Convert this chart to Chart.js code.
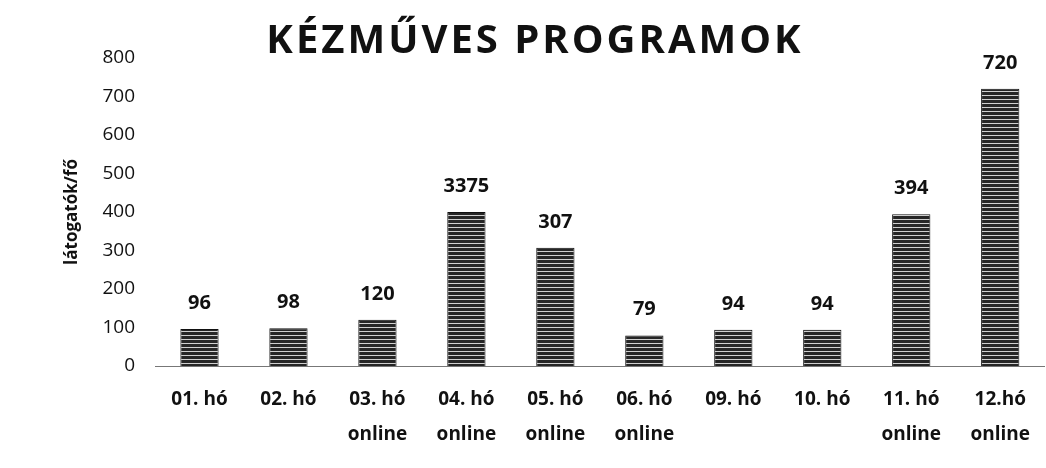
<!DOCTYPE html>
<html>
<head>
<meta charset="utf-8">
<script src="https://cdn.jsdelivr.net/npm/chart.js@4/dist/chart.umd.min.js"></script>
<style>
  html, body { margin: 0; padding: 0; background: #fff; }
  #wrap { width: 1046px; height: 468px; }
</style>
</head>
<body>
<div id="wrap"><canvas id="chart"></canvas></div>
<script>
const months = [
    ['01. hó'], ['02. hó'], ['03. hó', 'online'], ['04. hó', 'online'], ['05. hó', 'online'],
    ['06. hó', 'online'], ['09. hó'], ['10. hó'], ['11. hó', 'online'], ['12.hó', 'online']
];
// bar heights as drawn (the 04 bar is capped at the axis scale)
const visitors = [96, 98, 120, 400, 307, 79, 94, 94, 394, 720];
// numbers printed above the bars
const valueLabels = ['96', '98', '120', '3375', '307', '79', '94', '94', '394', '720'];
const yTicks = [0, 100, 200, 300, 400, 500, 600, 700, 800];

const FONT = '"Open Sans", "Noto Sans", sans-serif';
const TITLE = 'KÉZMŰVES PROGRAMOK';

// scanned look: dark bars with thin light horizontal lines
function stripePattern() {
    const c = document.createElement('canvas');
    c.width = 4;
    c.height = 4;
    const g = c.getContext('2d');
    g.fillStyle = '#262626';
    g.fillRect(0, 0, 4, 4);
    g.fillStyle = '#d0d0d0';
    g.fillRect(0, 3, 4, 1);
    return g.createPattern(c, 'repeat');
}

// values above bars + spaced-out title
const barLabels = {
    id: 'barLabels',
    afterDatasetsDraw(chart) {
        const ctx = chart.ctx;
        const meta = chart.getDatasetMeta(0);
        ctx.save();
        ctx.font = 'bold 20px ' + FONT;
        ctx.fillStyle = '#111';
        ctx.textAlign = 'center';
        ctx.textBaseline = 'bottom';
        meta.data.forEach((bar, i) => {
            ctx.fillText(valueLabels[i], bar.x, bar.y - 16);
        });

        // title (Chart.js title has no letter spacing)
        ctx.font = 'bold 40px ' + FONT;
        ctx.letterSpacing = '3px';
        ctx.textBaseline = 'alphabetic';
        ctx.fillText(TITLE, 535, 53);
        ctx.restore();
    }
};

function initChart() {
    const ctx = document.getElementById('chart').getContext('2d');

    new Chart(ctx, {
        type: 'bar',
        data: {
            labels: months,
            datasets: [{
                data: visitors,
                backgroundColor: stripePattern(),
                borderColor: '#111',
                borderWidth: 1,
                barPercentage: 0.43,
                categoryPercentage: 1
            }]
        },
        options: {
            responsive: true,
            maintainAspectRatio: false,
            animation: false,
            layout: { padding: { top: 58, right: 0, bottom: 0, left: 0 } },
            plugins: {
                legend: { display: false },
                tooltip: { enabled: false },
                title: { display: false }
            },
            scales: {
                x: {
                    afterFit(axis) { axis.height = 102; },
                    grid: { display: false, drawTicks: false },
                    border: { color: '#777', width: 1 },
                    ticks: {
                        color: '#111',
                        padding: 16,
                        maxRotation: 0,
                        autoSkip: false,
                        font: { family: FONT, size: 19, weight: 'bold', lineHeight: 1.85 }
                    }
                },
                y: {
                    min: 0,
                    max: 800,
                    afterBuildTicks(axis) {
                        axis.ticks = yTicks.map(v => ({ value: v }));
                    },
                    afterFit(axis) { axis.width = 155; },
                    grid: { display: false, drawTicks: false },
                    border: { display: false },
                    title: {
                        display: true,
                        text: 'látogatók/fő',
                        color: '#111',
                        padding: { top: 62, bottom: 0 },
                        font: { family: FONT, size: 17, weight: 'bold' }
                    },
                    ticks: {
                        color: '#111',
                        padding: 20,
                        font: { family: FONT, size: 19 }
                    }
                }
            }
        },
        plugins: [barLabels]
    });
}

document.addEventListener('DOMContentLoaded', initChart);
</script>
</body>
</html>
